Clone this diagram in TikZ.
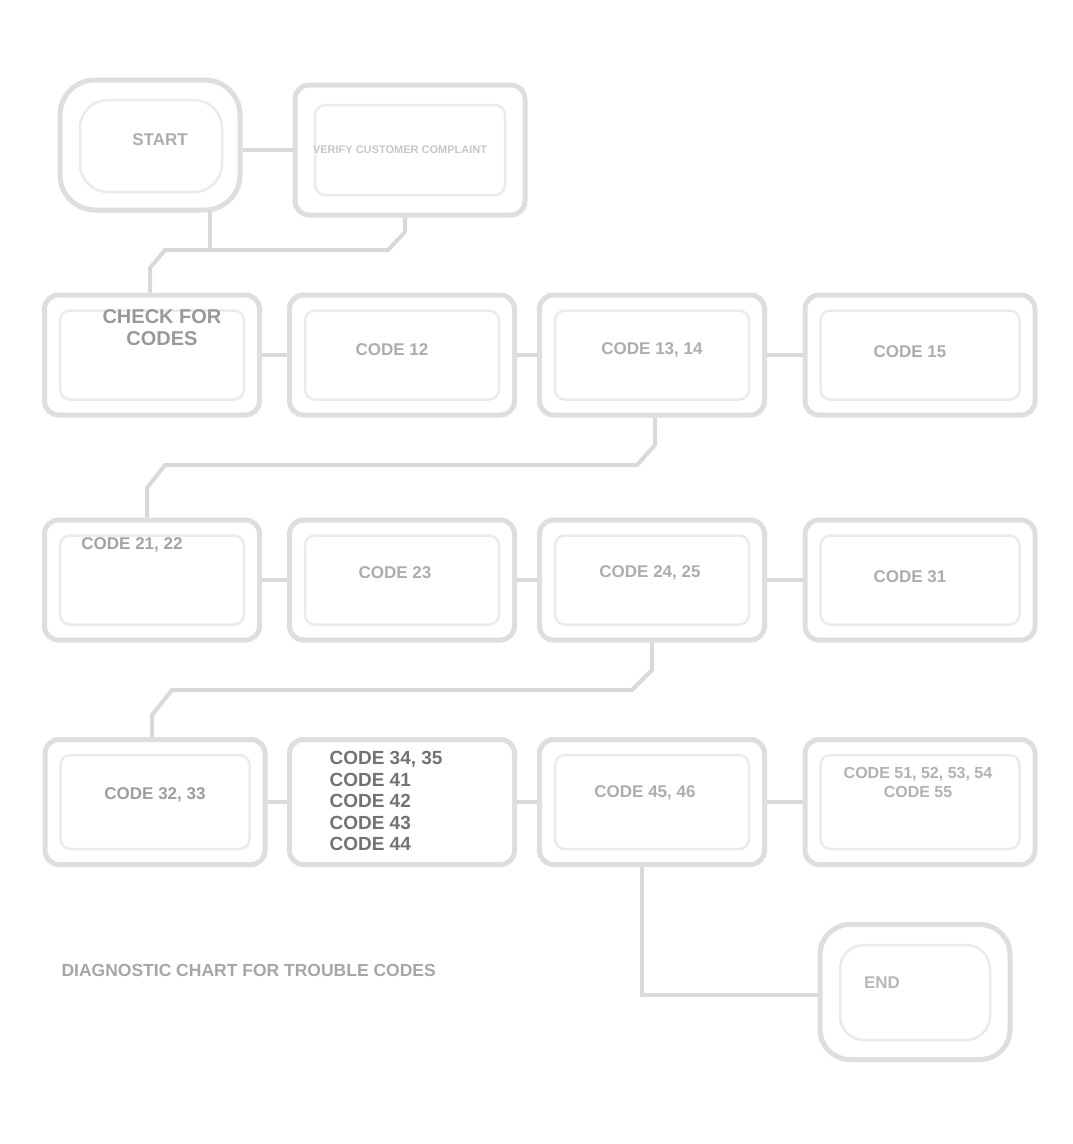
\documentclass[tikz,border=0pt]{standalone}
\usepackage{fontspec}
\setmainfont{Liberation Sans}
\usetikzlibrary{calc}
\begin{document}
\begin{tikzpicture}[x=1pt,y=-1pt,
  box/.style={draw=black!13, line width=5pt, rounded corners=14pt, fill=white,
    inner sep=0pt, font=\bfseries\fontsize{17}{19}\selectfont, text=black!32, align=center},
  inbox/.style={draw=black!8, line width=2.5pt, rounded corners=10pt},
  link/.style={draw=black!15, line width=4pt},
  txt/.style={font=\bfseries\fontsize{17}{19}\selectfont, text=black!32, align=center}]
\useasboundingbox (0,0) rectangle (1072,1144);
\fill[white] (0,0) rectangle (1072,1144);

% top row
\node[box, rounded corners=35pt, minimum width=180pt, minimum height=130pt] (t1) at (150,145) {};
\node[box, minimum width=230pt, minimum height=130pt] (t2) at (410,150) {};
\draw[inbox, rounded corners=28pt] (80,100) rectangle (222,192);
\draw[inbox] (315,105) rectangle (505,195);
\node[txt] (t1t) at (160,140) {START};
\node[txt, text=black!22, font=\bfseries\fontsize{11}{13}\selectfont] (t2t) at (400,150) {VERIFY CUSTOMER COMPLAINT};

% row 2
\foreach \n/\cx/\w in {a/152/215, b/402/225, c/652/225, d/920/230}{
  \node[box, minimum width=\w pt, minimum height=120pt] (r2\n) at (\cx,355) {};
  \draw[inbox] ($(r2\n.north west)+(18,18)$) rectangle ($(r2\n.south east)+(-18,-18)$);
}
\node[txt, text=black!40, font=\bfseries\fontsize{20}{22}\selectfont] at (162,328) {CHECK FOR\\CODES};
\node[txt] at (392,350) {CODE 12};
\node[txt] at (652,350) {CODE 13, 14};
\node[txt] at (910,352) {CODE 15};

% row 3
\foreach \n/\cx/\w in {a/152/215, b/402/225, c/652/225, d/920/230}{
  \node[box, minimum width=\w pt, minimum height=120pt] (r3\n) at (\cx,580) {};
  \draw[inbox] ($(r3\n.north west)+(18,18)$) rectangle ($(r3\n.south east)+(-18,-18)$);
}
\node[txt, text=black!36] at (132,545) {CODE 21, 22};
\node[txt] at (395,573) {CODE 23};
\node[txt] at (650,573) {CODE 24, 25};
\node[txt] at (910,577) {CODE 31};

% row 4
\foreach \n/\cx/\w in {a/155/220, b/402/225, c/652/225, d/920/230}{
  \node[box, minimum width=\w pt, minimum height=125pt] (r4\n) at (\cx,802) {};
}
\foreach \n in {a,c,d}{
  \draw[inbox] ($(r4\n.north west)+(18,18)$) rectangle ($(r4\n.south east)+(-18,-18)$);
}
\node[txt, text=black!38] at (155,795) {CODE 32, 33};
\node[txt, text=black!55, font=\bfseries\fontsize{19}{21.5}\selectfont, align=left, anchor=north west] at (326,748) {CODE 34, 35\\CODE 41\\CODE 42\\CODE 43\\CODE 44};
\node[txt] at (645,793) {CODE 45, 46};
\node[txt, text=black!30, font=\bfseries\fontsize{16}{19}\selectfont] at (918,782) {CODE 51, 52, 53, 54\\CODE 55};

% end box
\node[box, rounded corners=30pt, minimum width=190pt, minimum height=135pt] (e1) at (915,992) {};
\draw[inbox, rounded corners=24pt] (840,945) rectangle (990,1040);
\node[txt, text=black!28] at (882,983) {END};

% caption
\node[txt, text=black!35, font=\bfseries\fontsize{17.5}{19}\selectfont, anchor=west] (cap) at (58,970) {DIAGNOSTIC CHART FOR TROUBLE CODES};

% connectors
\draw[link] (t1.east |- 0,150) -- (t2.west |- 0,150);
\draw[link] (210,210) -- (210,250);
\draw[link] (t2.south -| 405,0) -- (405,232) -- (388,250) -- (165,250) -- (150,268) -- (r2a.north -| 150,0);
\foreach \r in {2,3,4}{
  \draw[link] (r\r a.east) -- (r\r b.west);
  \draw[link] (r\r b.east) -- (r\r c.west);
  \draw[link] (r\r c.east) -- (r\r d.west);
}
\draw[link] (r2c.south -| 655,0) -- (655,445) -- (637,465) -- (165,465) -- (147,488) -- (r3a.north -| 147,0);
\draw[link] (r3c.south -| 652,0) -- (652,670) -- (632,690) -- (172,690) -- (152,715) -- (r4a.north -| 152,0);
\coordinate (k1) at (642,995);
\draw[link] (r4c.south -| 642,0) -- (k1) -- (e1.west |- k1);
\end{tikzpicture}
\end{document}
